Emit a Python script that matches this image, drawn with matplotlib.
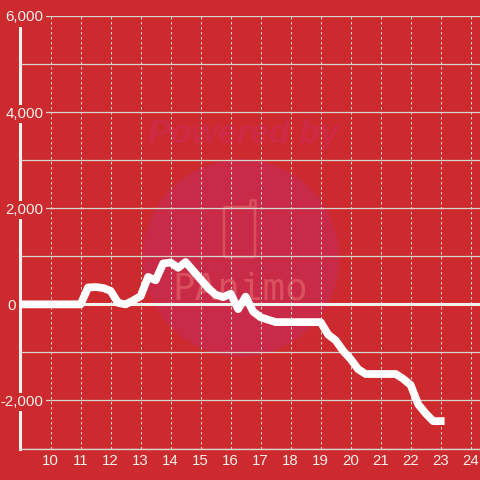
import matplotlib
matplotlib.use('Agg')
import matplotlib.pyplot as plt
from matplotlib.patches import Ellipse, FancyBboxPatch

hours = [9, 10, 11, 11.25, 11.5, 11.75, 12, 12.25, 12.5, 12.75, 13, 13.25, 13.5, 13.75,
         14, 14.25, 14.5, 14.75, 15, 15.25, 15.5, 15.75, 16, 16.25, 16.5, 16.75,
         17, 17.25, 17.5, 18, 19, 19.25, 19.5, 19.75, 20, 20.25, 20.5, 21, 21.5,
         21.75, 22, 22.25, 22.5, 22.75, 23]
values = [0, 0, 0, 350, 360, 340, 280, 30, 0, 80, 170, 570, 500, 850,
          870, 760, 880, 700, 520, 340, 200, 150, 220, -100, 160, -150,
          -270, -320, -370, -370, -370, -630, -750, -970, -1140, -1350, -1450, -1450, -1450,
          -1550, -1680, -2080, -2270, -2430, -2430]
xticks = list(range(10, 25))
yticks = [-3000, -2000, -1000, 0, 1000, 2000, 3000, 4000, 5000, 6000]
ylabels = ['', '-2,000', '', '0', '', '2,000', '', '4,000', '', '6,000']

RED = '#cc2a2e'
WHITE = '#f4f0ec'
GRID = '#d9d5cc'
LOGO = '#d9505f'

plt.rcParams['font.family'] = ['Liberation Sans', 'DejaVu Sans']

fig = plt.figure(figsize=(4.8, 4.8), dpi=100, facecolor=RED)
ax = fig.add_axes([20 / 480, 31.5 / 480, 460 / 480, 432.5 / 480], facecolor=RED)
ax.set_xlim(8.98, 24.31)
ax.set_ylim(-3000, 6000)

# watermark sits behind everything
ax2 = fig.add_axes([0, 0, 1, 1], facecolor='none', zorder=-1)
ax2.set_xlim(0, 480)
ax2.set_ylim(480, 0)
ax2.axis('off')
ax.set_zorder(1)
ax.patch.set_visible(False)
ax2.add_patch(Ellipse((241, 258), 197, 197, color='#c92a47', lw=0))
ax2.add_patch(FancyBboxPatch((224, 207), 31, 50, boxstyle='round,pad=0,rounding_size=2',
                             fc='none', ec=LOGO, lw=1.8))
ax2.plot([250, 250, 255, 255], [207, 200, 200, 207], color=LOGO, lw=1.8)
ax2.text(243, 134, 'Powered by', color='#cf2a45', fontsize=24.5, fontweight='bold',
         fontstyle='italic', ha='center', va='center')
ax2.text(240, 290, 'PAnimo', color=LOGO, fontsize=27, ha='center', va='center',
         family='DejaVu Sans Mono')

ax.set_xticks(xticks)
ax.set_yticks(yticks)
ax.set_yticklabels(ylabels)
ax.grid(axis='y', color=GRID, lw=0.9)
ax.grid(axis='x', color=GRID, lw=0.72, linestyle=(0, (2.5, 2.5)))
ax.set_axisbelow(True)
ax.tick_params(length=0, labelcolor=WHITE, labelsize=10.8)
ax.tick_params(axis='x', pad=4)
ax.tick_params(axis='y', pad=-17)
for lab in ax.get_yticklabels():
    lab.set_bbox(dict(fc=RED, ec='none', pad=1.5))

# the 0 label sits left of the axis line in the original
zero_tick = ax.yaxis.get_major_ticks()[3]
zero_tick.set_pad(3)
zero_tick.label1.set_bbox(None)

for s in ['top', 'right']:
    ax.spines[s].set_visible(False)
ax.spines['left'].set_color(WHITE)
ax.spines['left'].set_linewidth(2.2)
ax.spines['left'].set_zorder(0.3)
ax.spines['bottom'].set_color(GRID)
ax.spines['bottom'].set_linewidth(1)

ax.axhline(0, color=WHITE, lw=2.2, zorder=1)
ax.plot(hours, values, color='white', lw=5.6, solid_joinstyle='round', solid_capstyle='projecting', zorder=3)

fig.savefig('out.png', dpi=100, facecolor=RED)
